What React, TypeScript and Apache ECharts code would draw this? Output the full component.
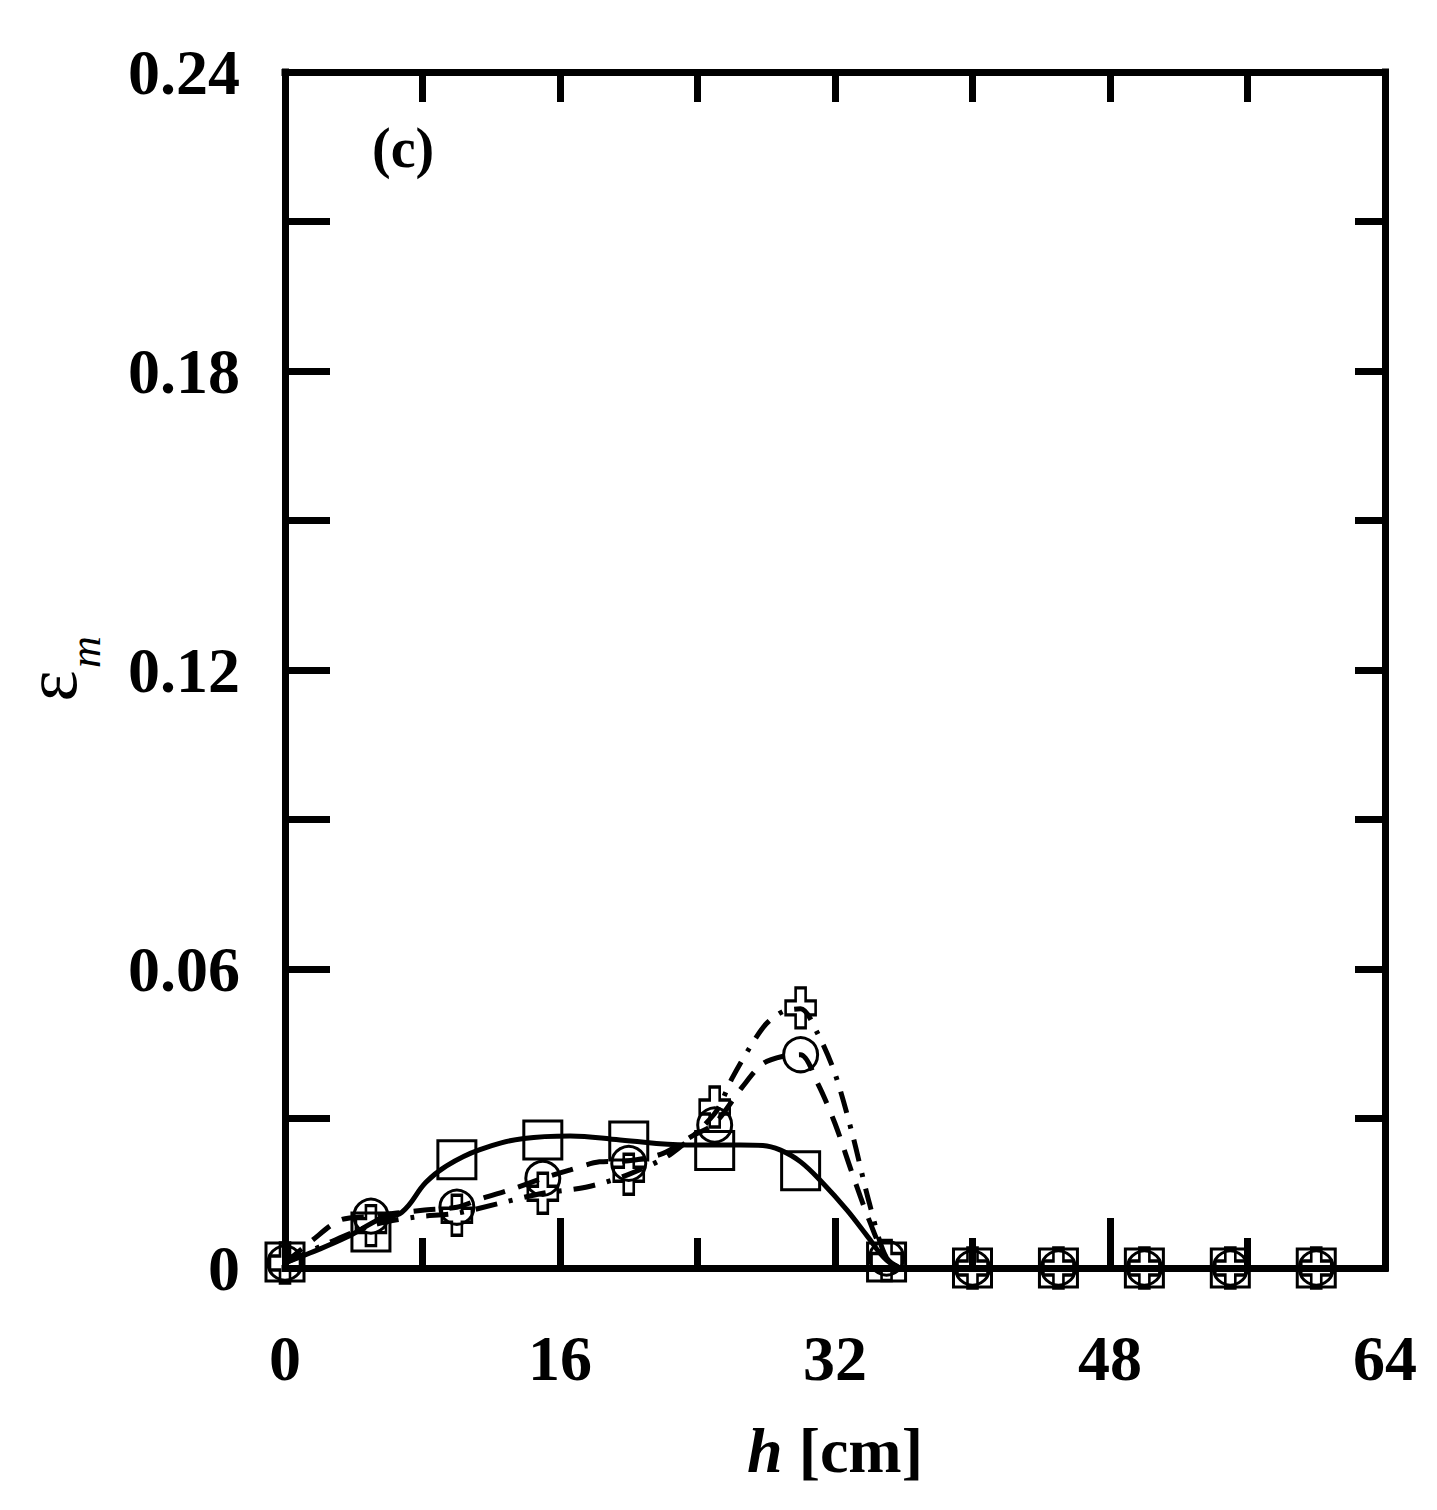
import React, { useEffect, useRef } from 'react';
import * as echarts from 'echarts';

const FONT = '"Liberation Serif", "Times New Roman", serif';

// measured points (h in cm)
const hPoints = [0, 5, 10, 15, 20, 25, 30, 35, 40, 45, 50, 55, 60];
const squareValues = [0.0012, 0.0072, 0.0217, 0.0257, 0.0255, 0.0236, 0.0195, 0.0012, 0, 0, 0, 0, 0];
const circleValues = [0.001, 0.0104, 0.0122, 0.018, 0.021, 0.0287, 0.0428, 0.002, 0, 0, 0, 0, 0];
const crossValues = [0.001, 0.0085, 0.0106, 0.015, 0.0188, 0.0323, 0.0522, 0.0015, 0, 0, 0, 0, 0];

// fitted curves
const solidCurve = [
  [0, 0.001], [1.45, 0.003], [3.6, 0.0062], [5.5, 0.0098], [6.8, 0.0112], [8.2, 0.0172],
  [9.4, 0.0205], [11.3, 0.0237], [13.9, 0.026], [16.6, 0.0265], [19.5, 0.0257],
  [23.4, 0.0247], [26.5, 0.0247], [27.8, 0.0246], [28.8, 0.0237], [30, 0.0213],
  [31.3, 0.017], [32.7, 0.0116], [33.9, 0.0063], [35, 0.0016], [36, 0], [60, 0],
];
const dashedCurve = [
  [0, 0.001], [1.6, 0.0056], [3.2, 0.0096], [5, 0.0104], [8, 0.0116], [10, 0.0122],
  [11.5, 0.014], [13.1, 0.0157], [15, 0.018], [16.6, 0.0197], [18.3, 0.0213], [20, 0.0215],
  [22, 0.023], [23.7, 0.0265], [25, 0.029], [26.6, 0.0363], [27.8, 0.041], [29, 0.0425],
  [30, 0.0428], [31, 0.037], [32, 0.029], [33, 0.019], [34, 0.0095], [35, 0.002], [36, 0], [60, 0],
];
const dashDotCurve = [
  [0, 0.001], [2.5, 0.005], [5, 0.0085], [7.5, 0.0102], [10, 0.011], [12.5, 0.013],
  [15, 0.015], [17.5, 0.0162], [20, 0.0188], [22.5, 0.023], [25, 0.031], [26, 0.038],
  [27, 0.044], [28, 0.049], [29, 0.0515], [30, 0.052], [31, 0.047], [32, 0.039],
  [33, 0.027], [34, 0.013], [35, 0.002], [36, 0], [60, 0],
];

const CROSS = 'path://M10,0 H20 V13 H30 V27 H20 V40 H10 V27 H0 V13 H10 Z';

const pts = (vals: number[]) => hPoints.map((h, i) => [h, vals[i]]);

const axisLine = { show: true, onZero: false, lineStyle: { color: '#000', width: 7, cap: 'square' as const } };
const tickStyle = { color: '#000', width: 7 };
const labelStyle = { color: '#000', fontFamily: FONT, fontWeight: 'bold' as const, fontSize: 64 };

const App: React.FC = () => {
  const divEL = useRef<HTMLDivElement>(null);

  useEffect(() => {
    const instance = echarts.init(divEL.current as any, null, { renderer: 'svg' });

    const markerStyle = { color: 'rgba(0,0,0,0)', borderColor: '#000', borderWidth: 3, opacity: 1 };

    const option: any = {
      animation: false,
      backgroundColor: '#fff',
      grid: { left: 277, right: 44, top: 64, bottom: 234, containLabel: false, outerBoundsMode: 'none' },
      xAxis: [
        {
          type: 'value',
          position: 'bottom',
          min: 0,
          max: 64,
          interval: 16,
          axisLine,
          axisTick: { show: true, inside: true, length: 50, lineStyle: tickStyle },
          minorTick: { show: true, splitNumber: 2, length: 30, lineStyle: tickStyle },
          splitLine: { show: false },
          axisLabel: { ...labelStyle, margin: 58 },
          name: '{i|h}{s| }{b|[cm]}',
          nameLocation: 'middle',
          nameGap: 150,
          nameTextStyle: {
            rich: {
              i: { ...labelStyle, fontStyle: 'italic' },
              s: { ...labelStyle, width: 16 },
              b: { ...labelStyle },
            },
          },
        },
        {
          type: 'value',
          position: 'top',
          min: 0,
          max: 64,
          interval: 8,
          axisLine,
          axisTick: { show: true, inside: true, length: 30, lineStyle: tickStyle },
          splitLine: { show: false },
          axisLabel: { show: false },
        },
      ],
      yAxis: [
        {
          type: 'value',
          position: 'left',
          min: 0,
          max: 0.24,
          interval: 0.06,
          axisLine,
          axisTick: { show: true, inside: true, length: 45, lineStyle: tickStyle },
          minorTick: { show: true, splitNumber: 2, length: 45, lineStyle: tickStyle },
          splitLine: { show: false },
          axisLabel: { ...labelStyle, margin: 45 },
        },
        {
          type: 'value',
          position: 'right',
          min: 0,
          max: 0.24,
          interval: 0.03,
          axisLine,
          axisTick: { show: true, inside: true, length: 30, lineStyle: tickStyle },
          splitLine: { show: false },
          axisLabel: { show: false },
        },
      ],
      graphic: [
        {
          type: 'text',
          left: 364,
          top: 112,
          style: { text: '(c)', fill: '#000', font: `bold 56px ${FONT}` },
        },
        // y axis title: epsilon with subscript m, rotated
        {
          type: 'text',
          x: 43,
          y: 678,
          rotation: Math.PI / 2,
          style: {
            text: 'ε',
            fill: '#000',
            font: `74px ${FONT}`,
            lineHeight: 50,
            align: 'center',
            verticalAlign: 'middle',
            textAlign: 'center',
            textVerticalAlign: 'middle',
          },
        },
        {
          type: 'text',
          x: 77,
          y: 644,
          rotation: Math.PI / 2,
          style: {
            text: 'm',
            fill: '#000',
            font: `italic 44px ${FONT}`,
            lineHeight: 44,
            align: 'center',
            verticalAlign: 'middle',
            textAlign: 'center',
            textVerticalAlign: 'middle',
          },
        },
      ],
      series: [
        {
          type: 'line',
          data: solidCurve,
          smooth: 0.4,
          symbol: 'none',
          lineStyle: { color: '#000', width: 5 },
          xAxisIndex: 0,
          yAxisIndex: 0,
        },
        {
          type: 'line',
          data: dashedCurve,
          smooth: 0.3,
          symbol: 'none',
          lineStyle: { color: '#000', width: 5, type: [22, 14] },
          xAxisIndex: 0,
          yAxisIndex: 0,
        },
        {
          type: 'line',
          data: dashDotCurve,
          smooth: 0.3,
          symbol: 'none',
          lineStyle: { color: '#000', width: 5, type: [22, 12, 4, 12] },
          xAxisIndex: 0,
          yAxisIndex: 0,
        },
        {
          type: 'scatter',
          data: pts(squareValues),
          symbol: 'rect',
          symbolSize: 38,
          itemStyle: markerStyle,
          clip: false,
          z: 5,
        },
        {
          type: 'scatter',
          data: pts(circleValues),
          symbol: 'circle',
          symbolSize: 34,
          itemStyle: markerStyle,
          clip: false,
          z: 5,
        },
        {
          type: 'scatter',
          data: pts(crossValues),
          symbol: CROSS,
          symbolSize: [30, 40],
          itemStyle: markerStyle,
          clip: false,
          z: 5,
        },
      ],
    };

    instance.setOption(option);
    return () => {
      instance.dispose();
    };
  }, []);

  return <div ref={divEL} style={{ width: 1421, height: 1494 }}></div>;
};

export default App;
